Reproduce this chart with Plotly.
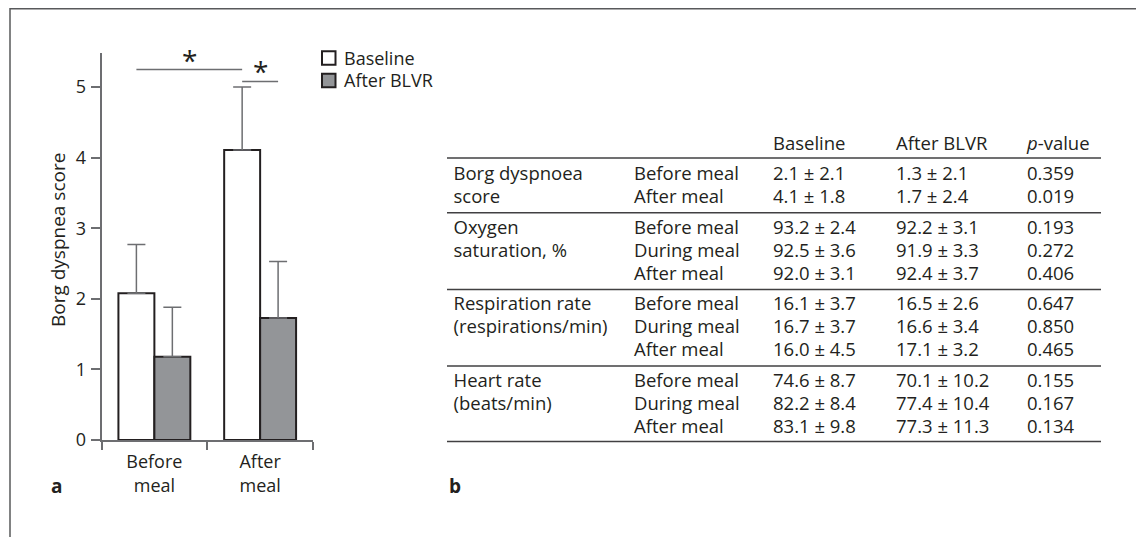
import plotly.graph_objects as go

# The page body adds an 8px margin, so the figure is sized to fit the window
# and all layout positions below are given in window pixels.
WIN_W, WIN_H = 1144, 537
OFF = 8
W, H = WIN_W - OFF, WIN_H - OFF

# ---------------- Panel a data ----------------
categories = ["Before<br>meal", "After<br>meal"]
baseline_mean = [2.08, 4.11]
baseline_err = [0.69, 0.89]
blvr_mean = [1.18, 1.73]
blvr_err = [0.70, 0.80]
y_ticks = [0, 1, 2, 3, 4, 5]
y_title = "Borg dyspnea score"
series_names = ["Baseline", "After BLVR"]

# significance brackets: (start category, start series, end category, end series)
sig_brackets = [(0, 0, 1, 0), (1, 0, 1, 1)]
sig_labels = ["*", "*"]

# ---------------- Panel b data ----------------
table_header = ["Baseline", "After BLVR", "<i>p</i>-value"]
group_labels = [
    ["Borg dyspnoea", "score"],
    ["Oxygen", "saturation, %"],
    ["Respiration rate", "(respirations/min)"],
    ["Heart rate", "(beats/min)"],
]
conditions = [
    ["Before meal", "After meal"],
    ["Before meal", "During meal", "After meal"],
    ["Before meal", "During meal", "After meal"],
    ["Before meal", "During meal", "After meal"],
]
baseline_tab_mean = [[2.1, 4.1], [93.2, 92.5, 92.0], [16.1, 16.7, 16.0], [74.6, 82.2, 83.1]]
baseline_tab_sd = [[2.1, 1.8], [2.4, 3.6, 3.1], [3.7, 3.7, 4.5], [8.7, 8.4, 9.8]]
after_tab_mean = [[1.3, 1.7], [92.2, 91.9, 92.4], [16.5, 16.6, 17.1], [70.1, 77.4, 77.3]]
after_tab_sd = [[2.1, 2.4], [3.1, 3.3, 3.7], [2.6, 3.4, 3.2], [10.2, 10.4, 11.3]]
p_values = [[0.359, 0.019], [0.193, 0.272, 0.406], [0.647, 0.850, 0.465], [0.155, 0.167, 0.134]]

# ---------------- styles ----------------
FONT = "Open Sans"
TXT = "#231f20"
AX = "#6d6e71"
GREY_FILL = "#939598"
FILLS = ["white", GREY_FILL]
FS = 18
FS_TAB = 18.5
BARGAP = 0.32


def px_x(p):
    return (p - OFF) / W


def px_y(p):
    return 1 - (p - OFF) / H


fig = go.Figure()

# bars
for name, vals, errs, fill in zip(series_names, [baseline_mean, blvr_mean],
                                  [baseline_err, blvr_err], FILLS):
    fig.add_trace(go.Bar(
        x=categories, y=vals, name=name, showlegend=False,
        marker=dict(color=fill, line=dict(color=TXT, width=2)),
        error_y=dict(type="data", array=errs, arrayminus=[0] * len(errs),
                     symmetric=False, color=AX, thickness=1.5, width=9),
        xaxis="x", yaxis="y",
    ))

# bar centre offsets within a group
half = (1 - BARGAP) / 4
offsets = [-half, half]
sig_levels = [5.25, 5.08]
sig_text_y = [5.39, 5.23]
shapes = []
annotations = []
for (c0, s0, c1, s1), lvl, ty, lab in zip(sig_brackets, sig_levels, sig_text_y, sig_labels):
    xa = c0 + offsets[s0]
    xb = c1 + offsets[s1]
    shapes.append(dict(type="line", xref="x", yref="y", x0=xa, x1=xb, y0=lvl, y1=lvl,
                       line=dict(color=AX, width=1.5)))
    annotations.append(dict(x=(xa + xb) / 2, y=ty, xref="x", yref="y", text=lab,
                            showarrow=False, yanchor="middle", xanchor="center",
                            font=dict(family=FONT, size=28, color=TXT)))

# legend (drawn as key boxes + labels)
legend_rows_y = [58, 80.5]
for name, fill, ly in zip(series_names, FILLS, legend_rows_y):
    shapes.append(dict(type="rect", xref="paper", yref="paper",
                       x0=px_x(322), x1=px_x(335.5), y0=px_y(ly + 6.75), y1=px_y(ly - 6.75),
                       fillcolor=fill, line=dict(color=TXT, width=2)))
    annotations.append(dict(x=px_x(342), y=px_y(ly), xref="paper", yref="paper", text=name,
                            showarrow=False, xanchor="left", yanchor="middle",
                            font=dict(family=FONT, size=FS, color=TXT)))

# y-axis title
annotations.append(dict(x=px_x(58), y=px_y(240), xref="paper", yref="paper", text=y_title,
                        textangle=-90, showarrow=False, xanchor="center", yanchor="middle",
                        font=dict(family=FONT, size=19, color=TXT)))

# ---------------- table as text traces ----------------
GROUP_GAP = 0.33
TEXT_SHIFT = 0.11  # text sits slightly below the line grid
row_pos = []
y = 0.0
sep_lines = []
for gi, conds in enumerate(conditions):
    y += 1 + GROUP_GAP
    sep_lines.append(y - (0.65 if gi == 0 else 0.6) - TEXT_SHIFT)
    rows = []
    for ri in range(len(conds)):
        rows.append(y)
        if ri < len(conds) - 1:
            y += 1
    row_pos.append(rows)
sep_lines.append(y + 0.68 - TEXT_SHIFT)

col_x = [6.5, 187, 326, 449, 580]


def add_text_col(xv, ys, texts):
    fig.add_trace(go.Scatter(
        x=[xv] * len(ys), y=ys, text=texts, mode="text", textposition="middle right",
        textfont=dict(family=FONT, size=FS_TAB, color=TXT), hoverinfo="skip",
        showlegend=False, xaxis="x2", yaxis="y2", cliponaxis=False,
    ))


# header
for xv, h in zip(col_x[2:], table_header):
    add_text_col(xv, [0], [h])

g_y, g_t, c_t, b_t, a_t, p_t, all_y = [], [], [], [], [], [], []
for gi in range(len(conditions)):
    for li, lab in enumerate(group_labels[gi]):
        g_y.append(row_pos[gi][li])
        g_t.append(lab)
    for ri, cond in enumerate(conditions[gi]):
        all_y.append(row_pos[gi][ri])
        c_t.append(cond)
        b_t.append(f"{baseline_tab_mean[gi][ri]:.1f} ± {baseline_tab_sd[gi][ri]:.1f}")
        a_t.append(f"{after_tab_mean[gi][ri]:.1f} ± {after_tab_sd[gi][ri]:.1f}")
        p_t.append(f"{p_values[gi][ri]:.3f}")

add_text_col(col_x[0], g_y, g_t)
add_text_col(col_x[1], all_y, c_t)
add_text_col(col_x[2], all_y, b_t)
add_text_col(col_x[3], all_y, a_t)
add_text_col(col_x[4], all_y, p_t)

for ly in sep_lines:
    shapes.append(dict(type="line", xref="x2 domain", yref="y2", x0=0, x1=1, y0=ly, y1=ly,
                       line=dict(color="#414042", width=1.5)))

# outer frame
shapes.append(dict(type="rect", xref="paper", yref="paper",
                   x0=px_x(10), x1=px_x(1137), y0=-0.1, y1=px_y(8.8),
                   line=dict(color="#58595b", width=1.5), fillcolor="rgba(0,0,0,0)"))

# panel letters
annotations.append(dict(x=px_x(56), y=px_y(486), xref="paper", yref="paper", text="<b>a</b>",
                        showarrow=False, xanchor="center", yanchor="middle",
                        font=dict(family=FONT, size=19, color=TXT)))
annotations.append(dict(x=px_x(447), y=px_y(486), xref="paper", yref="paper", text="<b>b</b>",
                        showarrow=False, xanchor="left", yanchor="middle",
                        font=dict(family=FONT, size=19, color=TXT)))

TAB_TOP = 142.5 + 2.5
fig.update_layout(
    width=W, height=H, template="none",
    margin=dict(l=0, r=0, t=0, b=0),
    paper_bgcolor="white", plot_bgcolor="rgba(0,0,0,0)",
    font=dict(family=FONT, size=FS, color=TXT),
    barmode="group", bargap=BARGAP, bargroupgap=0,
    showlegend=False,
    xaxis=dict(domain=[px_x(101.5), px_x(313)], type="category", range=[-0.5, 1.5],
               showline=True, linecolor=AX, linewidth=1.5, ticks="outside",
               tickson="boundaries", ticklen=8, tickwidth=1.5, tickcolor=AX,
               showgrid=False, zeroline=False, fixedrange=True, ticklabelstandoff=5,
               tickfont=dict(family=FONT, size=FS, color=TXT)),
    yaxis=dict(domain=[px_y(440), px_y(52.5)], range=[0, 5.49], tickvals=y_ticks,
               showline=True, linecolor=AX, linewidth=1.5, ticks="outside",
               ticklen=9, tickwidth=1.5, tickcolor=AX, showgrid=False, zeroline=False,
               fixedrange=True, ticklabelstandoff=1,
               tickfont=dict(family=FONT, size=FS, color=TXT)),
    xaxis2=dict(domain=[px_x(447), px_x(1101)], range=[0, 654], visible=False, fixedrange=True),
    yaxis2=dict(domain=[px_y(TAB_TOP + 23 * 14), px_y(TAB_TOP - 23)], range=[14, -1],
                visible=False, fixedrange=True),
    shapes=shapes, annotations=annotations,
)

fig.write_html("out.html")
